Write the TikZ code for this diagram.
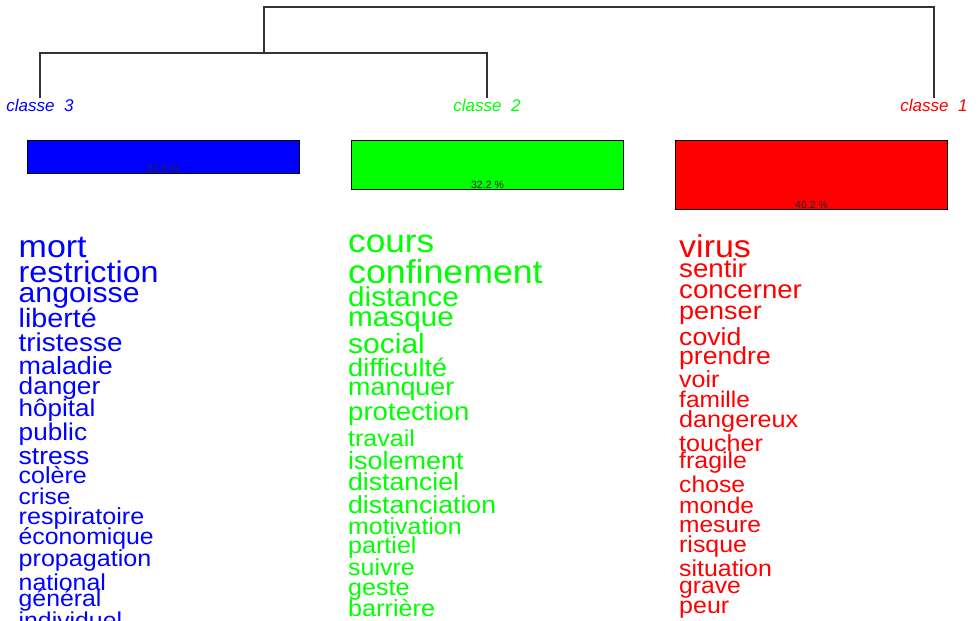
\documentclass[tikz,border=0pt]{standalone}
\usepackage{fontspec}
\setmainfont[Ligatures=CommonOff]{Liberation Sans}
\newfontfamily\motfont[Ligatures=CommonOff,FakeStretch=1.08]{Liberation Sans}
\definecolor{cl1}{RGB}{255,0,0}
\definecolor{cl2}{RGB}{0,255,0}
\definecolor{cl3}{RGB}{0,0,255}

\tikzset{
classe/.style={font=\itshape\fontsize{17}{17}\selectfont,inner sep=0pt,anchor=base},
bar/.style={draw=black,line width=1pt,inner sep=0pt,minimum width=272pt,anchor=north},
pct/.style={font=\fontsize{10.5}{10.5}\selectfont,text=black!85,inner sep=0pt,anchor=base},
mot/.style={inner sep=0pt,anchor=base west},
dendro/.style={draw=black!80,line width=1.2pt}}

\begin{document}
\begin{tikzpicture}[x=1pt,y=-1pt]
  \useasboundingbox (0,0) rectangle (978,621);
  \clip (0,0) rectangle (978,621);
  % classes et dendrogramme
  \node[classe,text=cl3] (c3) at (40,111) {classe\ \ 3};
  \node[classe,text=cl2] (c2) at (487,111) {classe\ \ 2};
  \node[classe,text=cl1] (c1) at (934,111) {classe\ \ 1};
  \coordinate (j32) at (264,53);
  \coordinate (root) at (600,7);
  \draw[dendro] (c3.north) |- (j32) -| (c2.north);
  \draw[dendro] (j32) |- (root) -| (c1.north);
  % barres
  \node[bar,fill=cl3,minimum height=33pt] (b3) at (163.3,140) {};
  \node[bar,fill=cl2,minimum height=49pt] (b2) at (487.5,140) {};
  \node[bar,fill=cl1,minimum height=69pt] (b1) at (811.5,140) {};
  \node[pct] (p3) at ([yshift=1.3pt]b3.south) {21.5 \%};
  \node[pct] (p2) at ([yshift=1.3pt]b2.south) {32.2 \%};
  \node[pct] (p1) at ([yshift=1.3pt]b1.south) {46.2 \%};
  % mots classe 3
  \foreach \w/\s/\y [count=\i,evaluate=\s as \t using \s/1.08] in {mort/34/257.3,restriction/32.3/282.3,
      angoisse/30.2/302.3,liberté/28.7/327.3,tristesse/27.9/351,
      maladie/26.9/374.3,danger/26.2/394.3,hôpital/26/416.7,public/26.2/440,
      stress/26.5/464.3,colère/25/483.3,crise/24.6/504.3,
      respiratoire/25.1/524,économique/24.8/544.3,propagation/25.1/566.7,
      national/24.9/590,général/24.8/606.7,individuel/24.8/628}
    \node[mot,text=cl3,font=\motfont\fontsize{\t}{\t}\selectfont] (m3\i) at (18.5,\y) {\w};
  % mots classe 2
  \foreach \w/\s/\y [count=\i,evaluate=\s as \t using \s/1.08] in {cours/35.2/252.3,confinement/35.7/283.3,
      distance/29.7/306,masque/29.7/326.7,social/30/353.3,
      difficulté/27.1/376.7,manquer/26.9/395,protection/27.6/420,
      travail/25/446.7,isolement/27/469.3,distanciel/26.6/490.7,
      distanciation/26.6/513.3,motivation/24.9/534.3,partiel/25.1/553.3,
      suivre/25/575,geste/25.1/595,barrière/25.2/616}
    \node[mot,text=cl2,font=\motfont\fontsize{\t}{\t}\selectfont] (m2\i) at (348,\y) {\w};
  % mots classe 1
  \foreach \w/\s/\y [count=\i,evaluate=\s as \t using \s/1.08] in {virus/34/257.3,sentir/27.7/277.7,
      concerner/27.6/298.3,penser/27/319,covid/26.6/345,prendre/26.6/364.3,
      voir/25/387.3,famille/24.5/407.7,dangereux/25.2/427,
      toucher/25.1/451.7,fragile/24.9/468.3,chose/24.7/492.3,
      monde/24.5/513.3,mesure/24.5/532.3,risque/24.9/552.7,
      situation/24.9/576.7,grave/24.7/593.3,peur/25/613.3}
    \node[mot,text=cl1,font=\motfont\fontsize{\t}{\t}\selectfont] (m1\i) at (679,\y) {\w};
\end{tikzpicture}
\end{document}
